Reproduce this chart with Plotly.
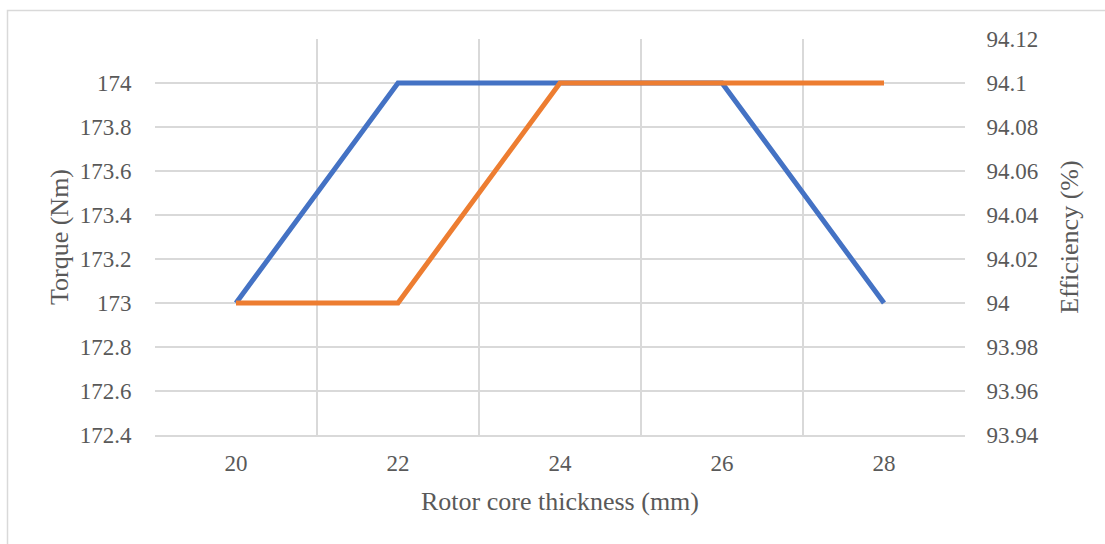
import plotly.graph_objects as go

# Rotor core thickness sweep
thickness_mm = ["20", "22", "24", "26", "28"]
torque_nm = [173.0, 174.0, 174.0, 174.0, 173.0]
efficiency_pct = [94.00, 94.00, 94.10, 94.10, 94.10]

torque_ticks = [172.4, 172.6, 172.8, 173.0, 173.2, 173.4, 173.6, 173.8, 174.0]
torque_tick_text = ["172.4", "172.6", "172.8", "173", "173.2", "173.4", "173.6", "173.8", "174"]
eff_ticks = [93.94, 93.96, 93.98, 94.00, 94.02, 94.04, 94.06, 94.08, 94.10, 94.12]
eff_tick_text = ["93.94", "93.96", "93.98", "94", "94.02", "94.04", "94.06", "94.08", "94.1", "94.12"]

W, H = 1105, 544
ML, MR, MT, MB = 155, 140, 39, 109
GRID = "#D9D9D9"
TEXT = "#595959"
FONT = "Liberation Serif, Times New Roman, serif"

fig = go.Figure()
fig.add_trace(go.Scatter(
    x=thickness_mm, y=torque_nm, name="Torque", mode="lines",
    line=dict(color="#4472C4", width=5), yaxis="y",
))
fig.add_trace(go.Scatter(
    x=thickness_mm, y=efficiency_pct, name="Efficiency", mode="lines",
    line=dict(color="#ED7D31", width=5), yaxis="y2",
))

# outer chart-area frame (runs off the right and bottom edges)
pw, ph = W - ML - MR, H - MT - MB
fig.add_shape(
    type="rect", xref="paper", yref="paper",
    x0=(7.5 - ML) / pw, x1=(W + 20 - ML) / pw,
    y0=(H - MB - (H + 20)) / ph, y1=(H - MB - 10.5) / ph,
    line=dict(color=GRID, width=1.5), fillcolor="rgba(0,0,0,0)", layer="below",
)

fig.update_layout(
    width=W, height=H,
    margin=dict(l=ML, r=MR, t=MT, b=MB),
    paper_bgcolor="white", plot_bgcolor="white",
    showlegend=False,
    font=dict(family=FONT, color=TEXT, size=23),
    xaxis=dict(
        type="category", range=[-0.5, 4.5],
        showgrid=True, gridcolor=GRID, gridwidth=1.5, tickson="boundaries",
        showline=True, linecolor=GRID, linewidth=1.5, zeroline=False,
        ticks="outside", ticklen=28, tickcolor="rgba(0,0,0,0)",
        ticklabelstandoff=7,
        tickfont=dict(size=23),
        title=dict(text="Rotor core thickness (mm)", font=dict(size=26), standoff=16),
    ),
    yaxis=dict(
        range=[172.4, 174.2], tickvals=torque_ticks, ticktext=torque_tick_text,
        showgrid=True, gridcolor=GRID, gridwidth=1.5, zeroline=False, showline=False,
        ticks="outside", ticklen=18, tickcolor="rgba(0,0,0,0)",
        tickfont=dict(size=23),
        title=dict(text="Torque (Nm)", font=dict(size=26), standoff=3),
    ),
    yaxis2=dict(
        overlaying="y", side="right",
        range=[93.94, 94.12], tickvals=eff_ticks, ticktext=eff_tick_text,
        showgrid=False, zeroline=False, showline=False,
        ticks="outside", ticklen=16, tickcolor="rgba(0,0,0,0)",
        tickfont=dict(size=23),
        title=dict(text="Efficiency (%)", font=dict(size=26), standoff=21),
    ),
)

fig.write_html("out.html")
